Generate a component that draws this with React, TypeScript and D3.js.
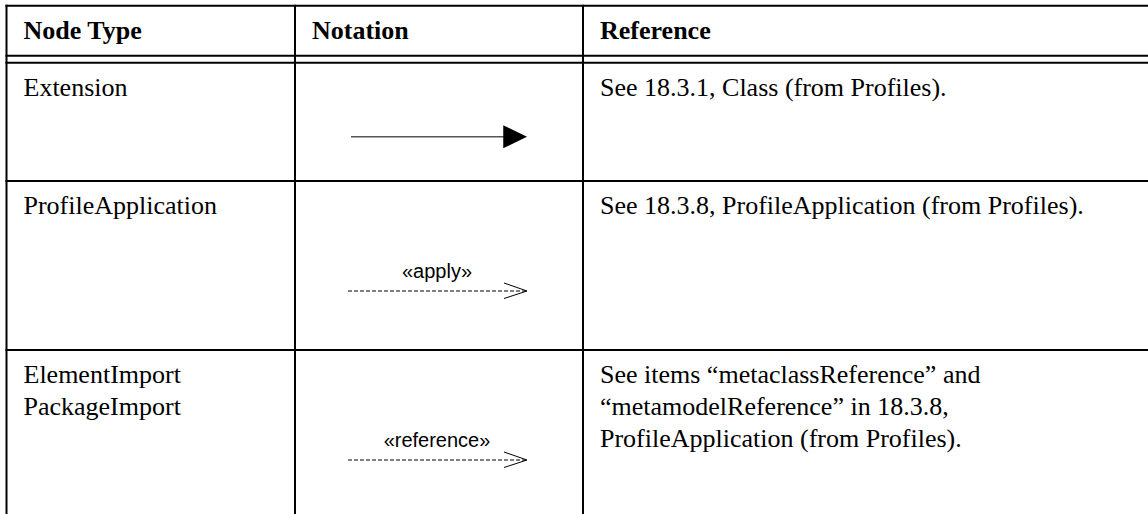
import React from 'react';
import * as d3 from 'd3';

// table content
const headers = ['Node Type', 'Notation', 'Reference'];
const nodeTypes = [['Extension'], ['ProfileApplication'], ['ElementImport', 'PackageImport']];
const notationKinds = ['extension', 'dependency', 'dependency'];
const notationLabels = ['', '«apply»', '«reference»'];
const references = [
  ['See 18.3.1, Class (from Profiles).'],
  ['See 18.3.8, ProfileApplication (from Profiles).'],
  ['See items “metaclassReference” and', '“metamodelReference” in 18.3.8,', 'ProfileApplication (from Profiles).'],
];

const W = 1148;
const H = 514;
const serif = '"Liberation Serif", "Times New Roman", serif';
const sans = '"Liberation Sans", Arial, sans-serif';

const App = () => {
  // column edges / row edges
  const colEdges = [6.5, 295, 583, W + 10];
  const headTop = 5.7;
  const headBottom = [55.7, 62.7];
  const rowEdges = [62.7, 181, 350, H + 20];

  const col = d3.scaleOrdinal<string, number>().domain(headers).range(colEdges.slice(0, 3));
  const rowIdx = d3.range(nodeTypes.length);
  const rowTop = d3.scaleOrdinal<number, number>().domain(rowIdx).range(rowEdges.slice(0, 3));
  const lineH = 32;
  const pad = 17;
  const notationMid = (colEdges[1] + colEdges[2]) / 2;
  const arrowX = d3.scaleLinear().domain([0, 1]).range([notationMid - 88, notationMid + 88]);

  const stroke = '#000';

  return (
    <svg width={W} height={H} style={{ position: 'absolute', left: 0, top: 0, background: '#fff' }}>
      {/* borders */}
      <g stroke={stroke} strokeWidth={2} fill="none">
        <line x1={colEdges[0] - 1} x2={W} y1={headTop} y2={headTop} />
        {headBottom.map((y) => (
          <line key={y} x1={colEdges[0] - 1} x2={W} y1={y} y2={y} />
        ))}
        {rowEdges.slice(1, 3).map((y) => (
          <line key={y} x1={colEdges[0] - 1} x2={W} y1={y} y2={y} />
        ))}
        {colEdges.slice(0, 3).map((x) => (
          <line key={x} x1={x} x2={x} y1={headTop - 1} y2={H} />
        ))}
      </g>

      {/* header */}
      {headers.map((h) => (
        <text key={h} x={col(h) + pad} y={39} fontFamily={serif} fontWeight="bold" fontSize={26} fill="#000">
          {h}
        </text>
      ))}

      {/* rows */}
      {rowIdx.map((i) => {
        const top = rowTop(i);
        return (
          <g key={i}>
            <text fontFamily={serif} fontSize={26} fill="#000">
              {nodeTypes[i].map((t, j) => (
                <tspan key={j} x={col('Node Type') + pad} y={top + 33 + j * lineH}>{t}</tspan>
              ))}
            </text>
            <text fontFamily={serif} fontSize={26} fill="#000">
              {references[i].map((t, j) => (
                <tspan key={j} x={col('Reference') + pad} y={top + 33 + j * lineH}>{t}</tspan>
              ))}
            </text>
            {notationKinds[i] === 'extension' ? (
              <g>
                <line x1={arrowX(0)} x2={arrowX(0.87)} y1={top + 74} y2={top + 74} stroke="#555" strokeWidth={1.4} />
                <path
                  d={`M${arrowX(0.865)},${top + 62.5}L${arrowX(1)},${top + 74}L${arrowX(0.865)},${top + 85.5}Z`}
                  fill="#000"
                />
              </g>
            ) : (
              <g>
                <text x={notationMid - 2} y={top + 97} textAnchor="middle" fontFamily={sans} fontSize={20} fill="#000">
                  {notationLabels[i]}
                </text>
                <line x1={arrowX(0) - 3} x2={arrowX(1)} y1={top + 110} y2={top + 110} stroke="#000" strokeWidth={1} strokeDasharray="4,2" />
                <path
                  d={`M${arrowX(1) - 23},${top + 102}L${arrowX(1)},${top + 110}L${arrowX(1) - 23},${top + 117.5}`}
                  fill="none"
                  stroke="#000"
                  strokeWidth={1}
                />
              </g>
            )}
          </g>
        );
      })}
    </svg>
  );
};

export default App;
